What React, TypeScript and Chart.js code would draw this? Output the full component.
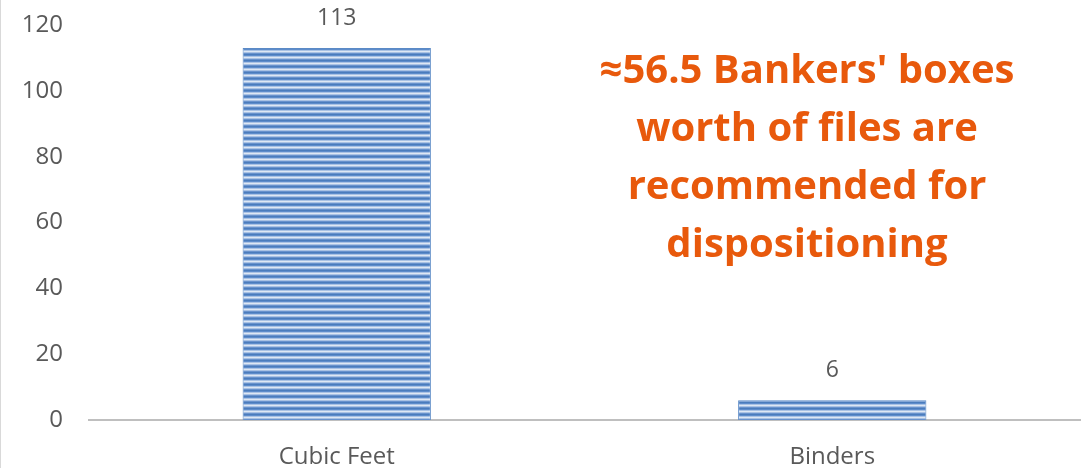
import React, { useEffect, useRef } from "react";
import { Chart, registerables } from "chart.js";

Chart.register(...registerables);

const categories = ["Cubic Feet", "Binders"];
const values = [113, 6];
const yTicks = [0, 20, 40, 60, 80, 100, 120];
const noteLines = ["≈56.5 Bankers' boxes", "worth of files are", "recommended for", "dispositioning"];

function makePattern(): CanvasPattern | string {
  const c = document.createElement("canvas");
  c.width = 4;
  c.height = 6;
  const g = c.getContext("2d");
  if (!g) return "#4f81bd";
  const rows = ["#4a7cbc", "#5d8ccb", "#a9c2e4", "#dde7f4", "#a9c2e4", "#6892cd"];
  rows.forEach((col, i) => {
    g.fillStyle = col;
    g.fillRect(0, i, 4, 1);
  });
  const p = g.createPattern(c, "repeat");
  return p || "#4f81bd";
}

const labelPlugin = {
  id: "valueLabels",
  afterDatasetsDraw(chart: any) {
    const ctx = chart.ctx;
    const meta = chart.getDatasetMeta(0);
    ctx.save();
    ctx.fillStyle = "#595959";
    ctx.font = "23px 'Open Sans'";
    ctx.textAlign = "center";
    ctx.textBaseline = "middle";
    meta.data.forEach((bar: any, i: number) => {
      ctx.fillText(String(values[i]), bar.x, bar.y - 30);
    });
    ctx.restore();
  },
};

const notePlugin = {
  id: "note",
  afterDraw(chart: any) {
    const ctx = chart.ctx;
    ctx.save();
    ctx.fillStyle = "#e8590c";
    ctx.font = "bold 40px 'Open Sans'";
    ctx.textAlign = "center";
    ctx.textBaseline = "middle";
    noteLines.forEach((t, i) => {
      ctx.fillText(t, 806, 72 + i * 58);
    });
    ctx.restore();
  },
};

export default function App() {
  const ref = useRef<HTMLCanvasElement>(null);
  useEffect(() => {
    document.body.style.margin = "0";
    if (!ref.current) return;
    const chart = new Chart(ref.current, {
      type: "bar",
      data: {
        labels: categories,
        datasets: [
          {
            data: values,
            backgroundColor: makePattern() as any,
            borderColor: "#5b8ac6",
            borderWidth: 1,
            categoryPercentage: 1,
            barPercentage: 0.38,
          },
        ],
      },
      options: {
        animation: false,
        responsive: false,
        maintainAspectRatio: false,
        layout: { padding: { top: 25, right: 6, left: 0, bottom: 0 } },
        plugins: { legend: { display: false }, tooltip: { enabled: false } },
        scales: {
          x: {
            grid: { display: false, drawTicks: false },
            border: { display: true, color: "#bfbfbf", width: 2 },
            ticks: {
              color: "#595959",
              font: { family: "'Open Sans'", size: 24 },
              padding: 23,
            },
            afterFit: (s: any) => {
              s.height = 48;
              s.paddingLeft = 0;
              s.paddingRight = 0;
            },
          },
          y: {
            min: 0,
            max: 120,
            afterBuildTicks: (s: any) => {
              s.ticks = yTicks.map((v) => ({ value: v }));
            },
            grid: { display: false, drawTicks: false },
            border: { display: false },
            ticks: {
              color: "#595959",
              font: { family: "'Open Sans'", size: 24 },
              padding: 26,
            },
            afterFit: (s: any) => {
              s.width = 88;
              s.paddingTop = 0;
              s.paddingBottom = 0;
            },
          },
        },
      },
      plugins: [labelPlugin, notePlugin],
    });
    return () => chart.destroy();
  }, []);
  return (
    <div style={{ position: "absolute", left: 0, top: 0, width: 1086, height: 468, borderLeft: "1px solid #d9d9d9", boxSizing: "border-box" }}>
      <canvas ref={ref} width={1085} height={468} style={{ display: "block" }} />
    </div>
  );
}
